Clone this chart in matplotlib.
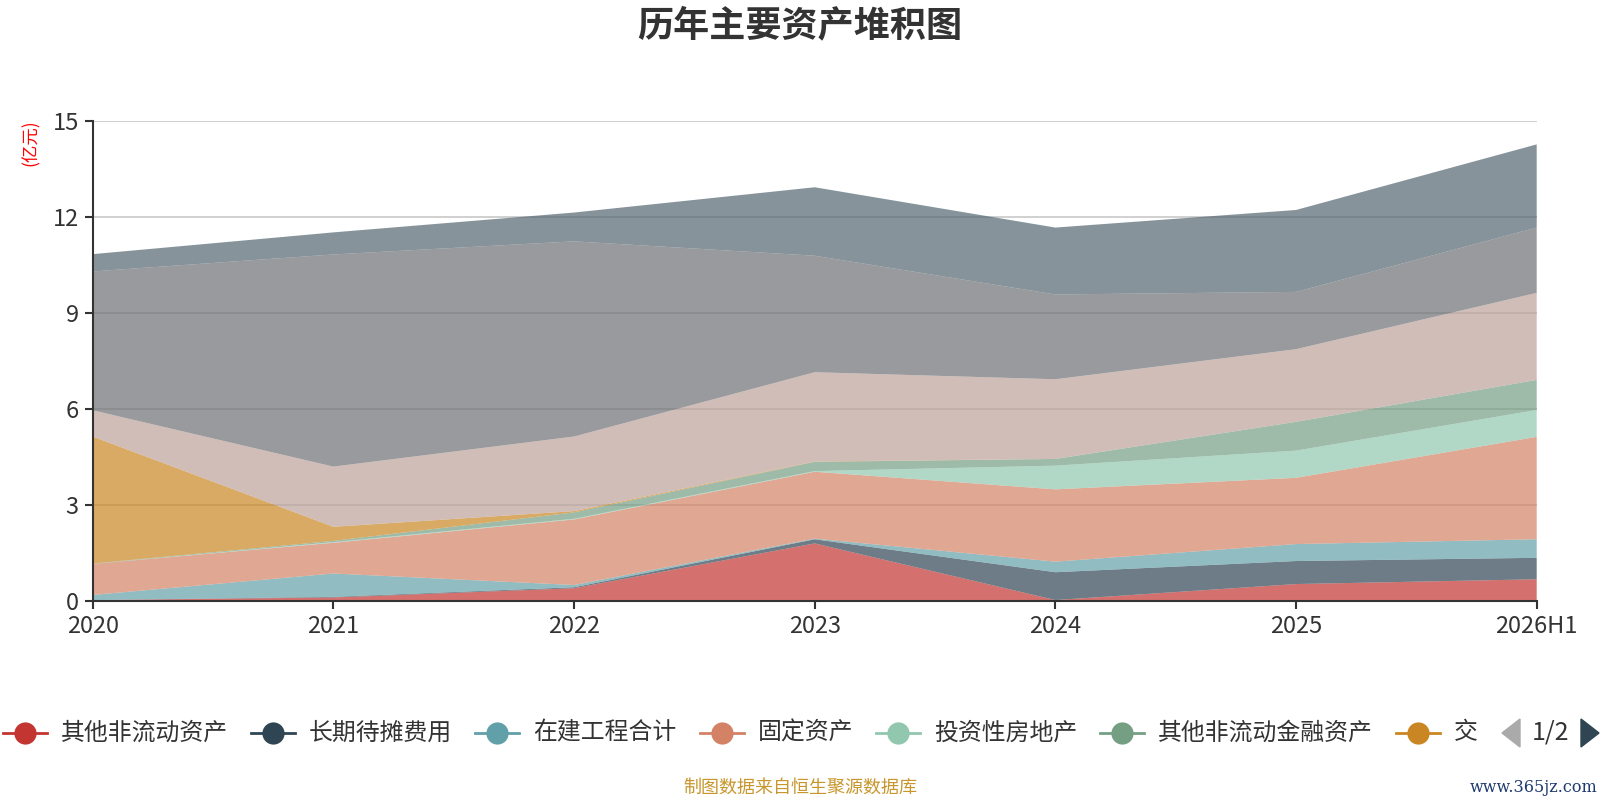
import matplotlib
matplotlib.use("Agg")
import matplotlib.pyplot as plt
from matplotlib.lines import Line2D
from matplotlib.patches import Polygon

plt.rcParams['font.family'] = ['Noto Sans CJK SC', 'DejaVu Sans']

# ---------------- data ----------------
categories = ["2020", "2021", "2022", "2023", "2024", "2025", "2026H1"]
series_names = ["其他非流动资产", "长期待摊费用", "在建工程合计", "固定资产",
                "投资性房地产", "其他非流动金融资产", "交易性金融资产",
                "无形资产", "货币资金", "应收账款"]
other_noncurrent = [0.02, 0.10, 0.39, 1.79, 0.02, 0.52, 0.67]
long_prepaid = [0.00, 0.02, 0.03, 0.13, 0.87, 0.72, 0.67]
construction = [0.16, 0.73, 0.07, 0.02, 0.33, 0.53, 0.58]
fixed_assets = [0.97, 0.96, 2.05, 2.09, 2.26, 2.07, 3.20]
invest_property = [0.00, 0.02, 0.02, 0.02, 0.74, 0.85, 0.84]
other_fin_assets = [0.01, 0.04, 0.20, 0.29, 0.21, 0.90, 0.94]
trading_fin_assets = [3.97, 0.44, 0.04, 0.01, 0.00, 0.00, 0.00]
intangible = [0.82, 1.88, 2.33, 2.79, 2.49, 2.27, 2.72]
cash = [4.34, 6.63, 6.10, 3.64, 2.65, 1.79, 2.04]
receivables = [0.54, 0.69, 0.90, 2.14, 2.09, 2.56, 2.60]
yticks = [0, 3, 6, 9, 12, 15]
legend_visible = ["其他非流动资产", "长期待摊费用", "在建工程合计", "固定资产",
                  "投资性房地产", "其他非流动金融资产", "交"]

colors = ['#c23531', '#2f4554', '#61a0a8', '#d48265', '#91c7ae',
          '#749f83', '#ca8622', '#bda29a', '#6e7074', '#546570']

values = [other_noncurrent, long_prepaid, construction, fixed_assets,
          invest_property, other_fin_assets, trading_fin_assets,
          intangible, cash, receivables]

W, H = 1600, 800
fig = plt.figure(figsize=(16, 8), dpi=100)

def fx(x):
    return x / W

def fy(y):
    return 1 - y / H

ax = fig.add_axes([fx(92.7), fy(600.7), fx(1536.7) - fx(92.7), fy(120.7) - fy(600.7)])
xs = list(range(len(categories)))
ax.stackplot(xs, *values, colors=colors, alpha=0.7, linewidth=0, zorder=2)

ax.set_xlim(0, len(categories) - 1)
ax.set_ylim(0, 15)
ax.set_xticks(xs)
ax.set_xticklabels(categories)
ax.set_yticks(yticks)
ax.set_yticklabels([str(t) for t in yticks])
ax.grid(axis='y', color='#c8c8c8', linewidth=1.2, zorder=1)
ax.set_axisbelow(True)
for s in ['top', 'right']:
    ax.spines[s].set_visible(False)
for s in ['left', 'bottom']:
    ax.spines[s].set_color('#333333')
    ax.spines[s].set_linewidth(1.5)
    ax.spines[s].set_zorder(5)
ax.tick_params(axis='both', colors='#333333', width=1.5, length=6,
               labelsize=17, labelcolor='#333333', pad=4)

# y unit label
fig.text(fx(31), fy(143), "(亿元)", rotation=90, color='red', fontsize=12.5,
         ha='center', va='center')

# title
fig.text(0.5, fy(26), "历年主要资产堆积图", ha='center', va='center',
         fontsize=26, fontweight='bold', color='#333333')

# legend (manual, paged)
fig.canvas.draw()
renderer = fig.canvas.get_renderer()
x = 3
ly = 733
for name, col in zip(legend_visible, colors):
    fig.add_artist(Line2D([fx(x), fx(x + 44)], [fy(ly), fy(ly)], color=col,
                          linewidth=2, transform=fig.transFigure))
    fig.add_artist(Line2D([fx(x + 22)], [fy(ly)], marker='o', markersize=16,
                          color=col, markeredgewidth=0, transform=fig.transFigure))
    t = fig.text(fx(x + 58), fy(ly), name, fontsize=17.2, color='#333333',
                 ha='left', va='center')
    w = t.get_window_extent(renderer).width
    x = x + 58 + w + 23

# pager
fig.add_artist(Polygon([[fx(1520), fy(719)], [fx(1520), fy(747)], [fx(1502), fy(733)]],
                       closed=True, color='#aaaaaa', transform=fig.transFigure))
fig.add_artist(Polygon([[fx(1581), fy(719)], [fx(1581), fy(747)], [fx(1599), fy(733)]],
                       closed=True, color='#2f4554', transform=fig.transFigure))
fig.text(fx(1551), fy(732), "1/2", fontsize=18, color='#333333', ha='center', va='center')

# footer
fig.text(0.5, fy(788), "制图数据来自恒生聚源数据库", ha='center', va='center',
         fontsize=13, color='#c8962c')
fig.text(fx(1597), fy(788), "www.365jz.com", ha='right', va='center',
         fontsize=11.5, color='#1f3a6e', family=['DejaVu Serif'])

fig.savefig("out.png", dpi=100)
